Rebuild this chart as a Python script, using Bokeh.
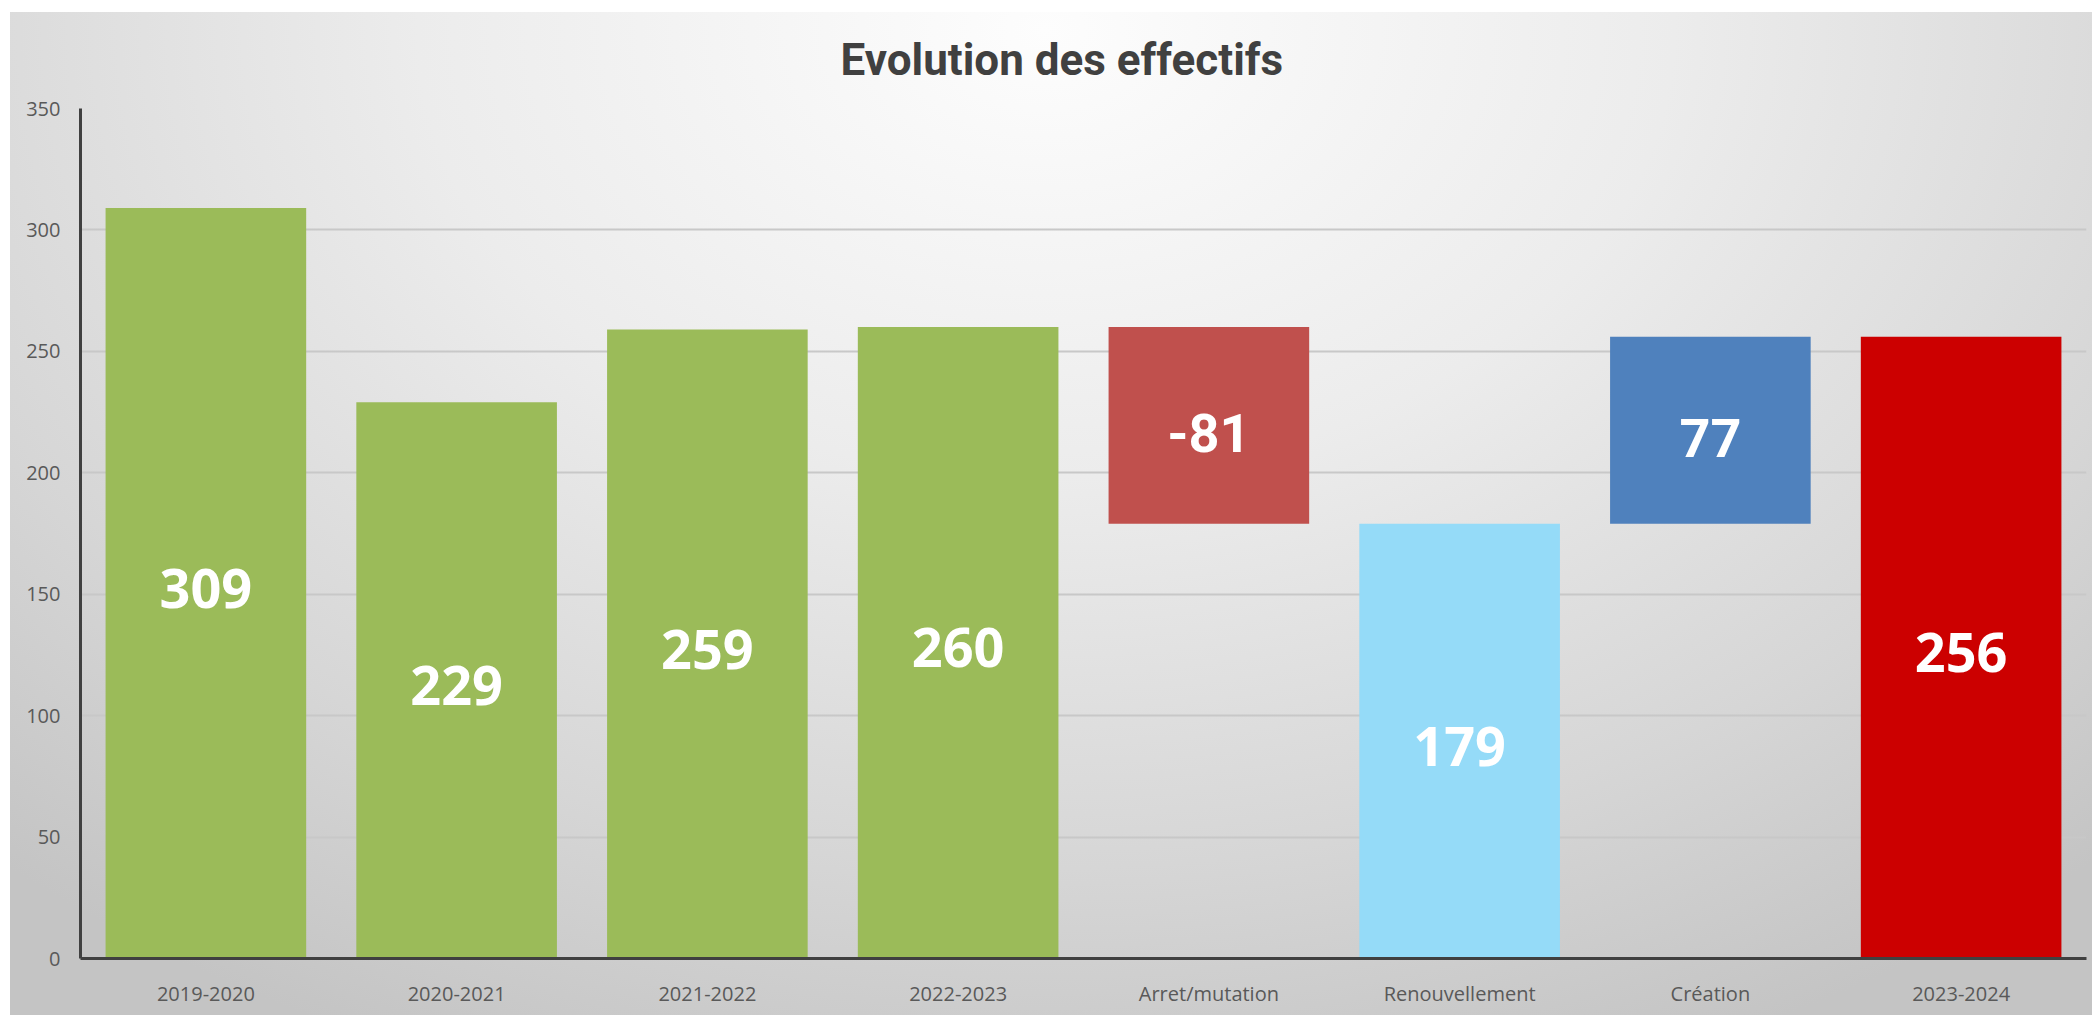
from bokeh.plotting import figure
from bokeh.models import ColumnDataSource, Range1d, FixedTicker, Title
from bokeh.core.properties import value
from bokeh.embed import file_html
from bokeh.resources import INLINE

categories = ["2019-2020", "2020-2021", "2021-2022", "2022-2023",
              "Arret/mutation", "Renouvellement", "Création", "2023-2024"]
values = [309, 229, 259, 260, -81, 179, 77, 256]
kinds = ["total", "total", "total", "total", "delta", "total", "delta", "total"]
colors = ["#9BBB59", "#9BBB59", "#9BBB59", "#9BBB59",
          "#C0504D", "#95DBF8", "#4F81BD", "#CC0000"]
y_ticks = [0, 50, 100, 150, 200, 250, 300, 350]

# build floating (waterfall) bars
bottoms, tops = [], []
prev = 0
for v, k in zip(values, kinds):
    if k == "delta":
        a, b = prev, prev + v
        bottoms.append(min(a, b)); tops.append(max(a, b))
        prev = prev + v
    else:
        bottoms.append(0); tops.append(v)
        prev = v
mids = [(b + t) / 2 for b, t in zip(bottoms, tops)]
labels = [str(v) for v in values]

src = ColumnDataSource(dict(cat=categories, bottom=bottoms, top=tops,
                            color=colors, mid=mids, label=labels))

p = figure(x_range=categories, y_range=Range1d(0, 350),
           width=2092, height=1015, output_backend="svg", toolbar_location=None,
           min_border_left=80, min_border_right=6, min_border_top=108, min_border_bottom=57)

p.styles = {"background": (
    "linear-gradient(#ffffff, #ffffff) top left / 100% 12px no-repeat, "
    "linear-gradient(#ffffff, #ffffff) top left / 10px 100% no-repeat, "
    "radial-gradient(ellipse 75% 110% at 50% 3%, #fdfdfd 0%, #ececec 40%, #d6d6d6 75%, #c4c4c4 100%)")}
p.border_fill_alpha = 0
p.background_fill_alpha = 0
p.outline_line_color = None

t = Title(text="Evolution des effectifs", align="left", offset=760,
          text_font="Roboto", text_font_size="44px",
          text_font_style="bold", text_color="#404040", standoff=46)
p.add_layout(t, "above")

p.vbar(x="cat", bottom="bottom", top="top", width=0.8, color="color",
       line_color=None, source=src)

big = ColumnDataSource(dict(cat=[c for c, k in zip(categories, kinds) if k == "total"],
                            mid=[m for m, k in zip(mids, kinds) if k == "total"],
                            label=[l for l, k in zip(labels, kinds) if k == "total"]))
dlt = ColumnDataSource(dict(cat=[c for c, k in zip(categories, kinds) if k == "delta"],
                            mid=[m for m, k in zip(mids, kinds) if k == "delta"],
                            label=[l for l, k in zip(labels, kinds) if k == "delta"]))
p.text(x="cat", y="mid", text="label", source=big, text_color="white",
       text_font=value("Open Sans"), text_font_style="bold", text_font_size="54px",
       text_align="center", text_baseline="middle", y_offset=5)
p.text(x="cat", y="mid", text="label", source=dlt, text_color="white",
       text_font=value("Roboto"), text_font_style="bold", text_font_size="54px",
       text_align="center", text_baseline="middle", y_offset=8)

p.xgrid.grid_line_color = None
p.ygrid.grid_line_color = "#c8c8c8"
p.ygrid.grid_line_width = 2
p.yaxis.ticker = FixedTicker(ticks=y_ticks)

for ax in (p.xaxis, p.yaxis):
    ax.axis_line_color = "#404040"
    ax.axis_line_width = 3
    ax.major_tick_line_color = None
    ax.minor_tick_line_color = None
    ax.major_label_text_color = "#595959"
    ax.major_label_text_font = "Open Sans"
    ax.major_label_text_font_size = "20px"
p.yaxis.major_label_standoff = 14
p.xaxis.major_label_standoff = 15

open("out.html", "w").write(file_html(p, INLINE))
